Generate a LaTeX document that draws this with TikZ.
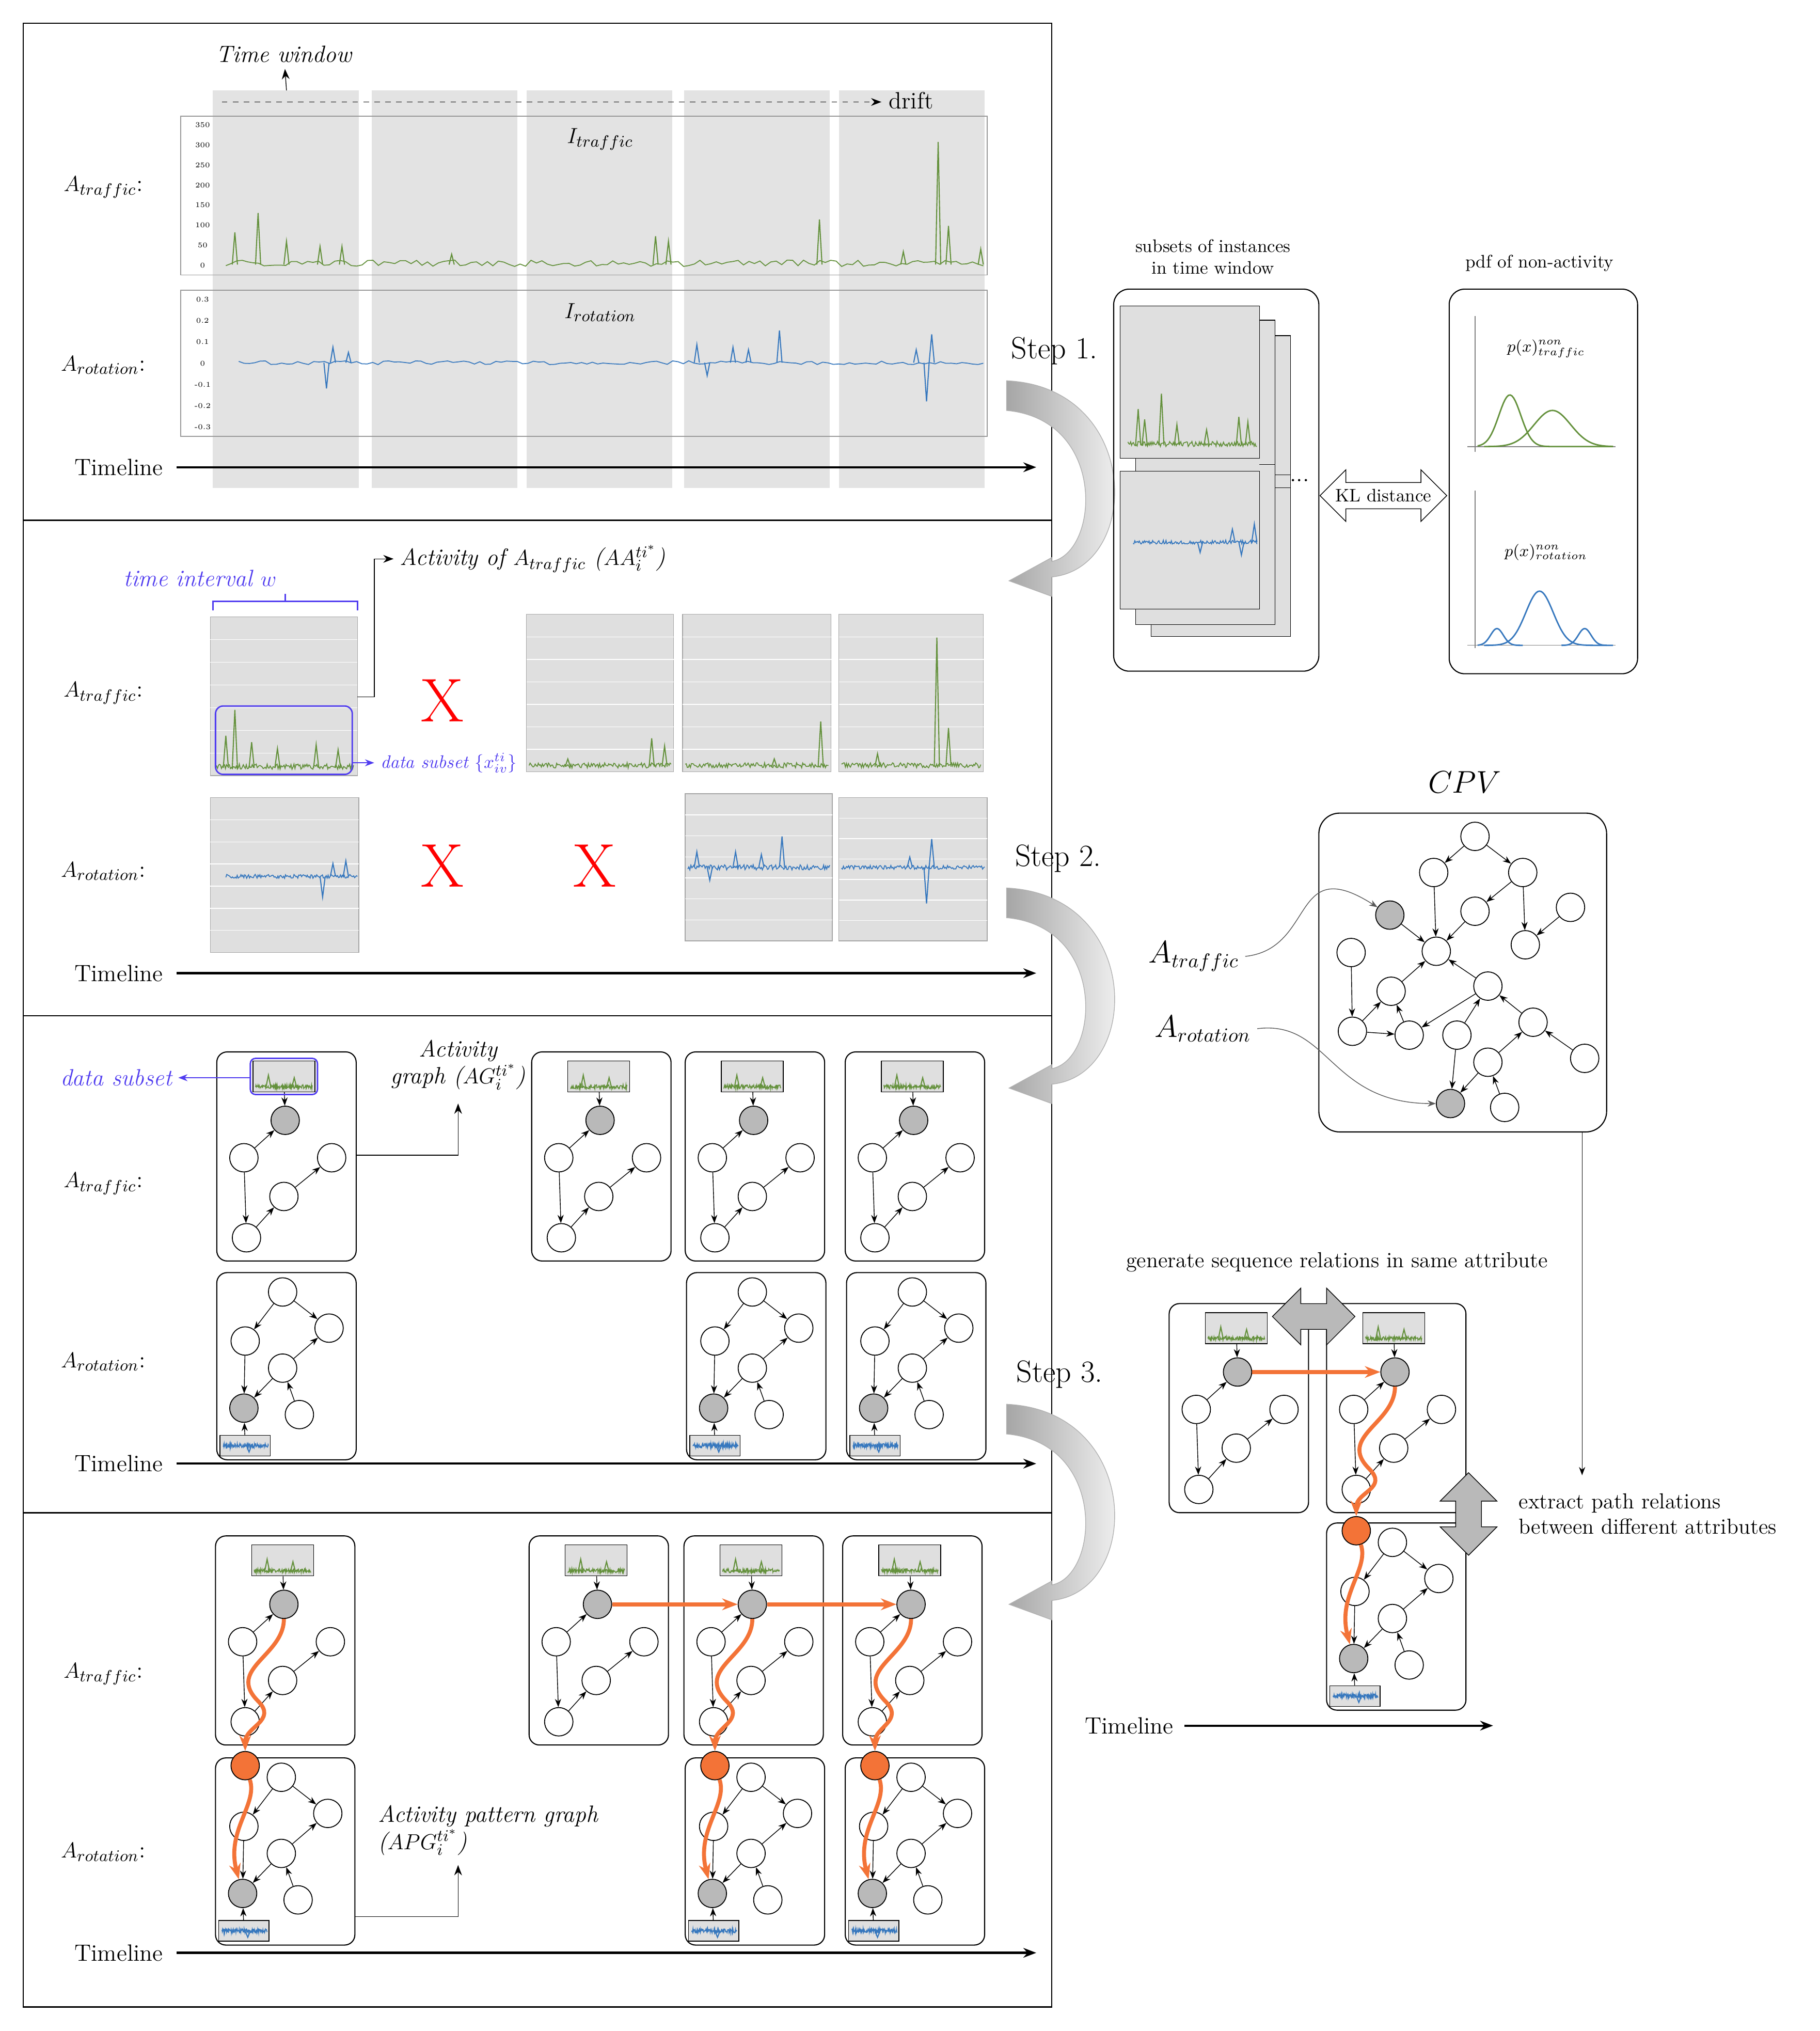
\documentclass[tikz,border=0pt]{standalone}
\usetikzlibrary{arrows.meta,shapes.arrows,calc}
\definecolor{grn}{RGB}{100,145,60}
\definecolor{blu}{RGB}{55,120,190}
\definecolor{orn}{RGB}{243,115,55}
\definecolor{pur}{RGB}{80,60,240}
\begin{document}
\begin{tikzpicture}[x=0.25mm,y=-0.25mm,font=\fontsize{13}{15}\selectfont]
\tikzset{
 gn/.style={circle,draw,fill=white,minimum size=5.5mm,inner sep=0,line width=0.5pt},
 gg/.style={gn,fill=gray!55},
 og/.style={gn,fill=orn},
 ar/.style={-{Stealth[length=1.6mm]},line width=0.4pt},
 oar/.style={orn,line width=2.2pt,-{Stealth[length=3mm]}},
 tl/.style={-{Stealth[length=2.5mm]},line width=1.2pt},
 gbox/.style={fill=gray!25,draw=gray!70,line width=0.4pt},
 thumb/.style={draw,fill=gray!25,inner sep=0},
 col/.style={fill=gray!22,draw=none},
 small/.style={font=\fontsize{10}{12}\selectfont}
}
\pgfmathsetseed{7}
\newcommand\noise[5]{\draw[#5,line width=0.5pt] plot[domain=#1:#2,samples=140] (\x,{#3-#4*(rnd-0.5)});}
\newcommand\spk[4]{\draw[#4,line width=0.6pt] ({#1-2},#2) -- (#1,{#2-(#3)}) -- ({#1+2},#2);}
\newcommand\tgraph[3]{%
 \begin{scope}[shift={(#2,#3)}]
 \draw[rounded corners=2mm,line width=0.6pt] (0,0) rectangle (108,162);
 \node[thumb,minimum width=12mm,minimum height=6mm] (#1t) at (52,19) {};
 \noise{30}{74}{27}{3}{grn}\spk{40}{28}{10}{grn}\spk{60}{28}{8}{grn}
 \node[gg] (#1g) at (53,53) {};
 \node[gn] (#1a) at (21,82) {};
 \node[gn] (#1b) at (89,82) {};
 \node[gn] (#1c) at (52,112) {};
 \node[gn] (#1d) at (23,144) {};
 \end{scope}
 \draw[ar] (#1t) -- (#1g); \draw[ar] (#1a) -- (#1g); \draw[ar] (#1a) -- (#1d);
 \draw[ar] (#1c) -- (#1b); \draw[ar] (#1d) -- (#1c);}
\newcommand\rgraph[3]{%
 \begin{scope}[shift={(#2,#3)}]
 \draw[rounded corners=2mm,line width=0.6pt] (0,0) rectangle (108,145);
 \node[thumb,minimum width=9.75mm,minimum height=4mm] (#1t) at (22,134) {};
 \noise{5}{40}{134}{3}{blu}\spk{25}{134}{-5}{blu}
 \node[gn] (#1u) at (51,15) {};
 \node[gn] (#1r) at (87,43) {};
 \node[gn] (#1l) at (22,53) {};
 \node[gn] (#1m) at (51,74) {};
 \node[gg] (#1g) at (21,105) {};
 \node[gn] (#1w) at (64,110) {};
 \end{scope}
 \draw[ar] (#1u) -- (#1l); \draw[ar] (#1u) -- (#1r); \draw[ar] (#1l) -- (#1g);
 \draw[ar] (#1m) -- (#1g); \draw[ar] (#1w) -- (#1m); \draw[ar] (#1m) -- (#1r);
 \draw[ar] (#1t) -- (#1g);}
\newcommand\orot[3]{%
 \rgraph{#1}{#2}{#3}
 \node[og] (#1o) at ({#2+23},{#3+6}) {};}
\newcommand\steparrow[1]{%
 \begin{scope}[shift={(0,#1)}]
 \shade[left color=gray!70,right color=white,draw=gray!60,line width=0.4pt]
 (780,295) .. controls (885,300) and (885,440) .. (815,447) -- (815,462) -- (782,450) -- (815,432) -- (815,435) .. controls (852,428) and (858,325) .. (780,318) -- cycle;
 \end{scope}}

\useasboundingbox (0,0) rectangle (1410,1573.6);
\fill[white] (0,0) rectangle (1410,1573.6);

\draw[line width=0.8pt] (18,18) rectangle (815,1555);
\draw[line width=0.8pt] (18,403) -- (815,403) (18,787) -- (815,787) (18,1172) -- (815,1172);

% ===== Panel 1
\foreach \a/\b in {165/278,288/401,408/521,530/643,650/763} \fill[col] (\a,70) rectangle (\b,378);
\draw[gray!80,line width=0.5pt] (140,90) rectangle (765,213);
\draw[gray!80,line width=0.5pt] (140,225) rectangle (765,338);
\foreach \v [count=\i from 0] in {350,300,250,200,150,100,50,0} \node[font=\fontsize{4}{5}\selectfont] at (157,{97+\i*15.5}) {\v};
\foreach \v [count=\i from 0] in {0.3,0.2,0.1,0,-0.1,-0.2,-0.3} \node[font=\fontsize{4}{5}\selectfont] at (157,{232+\i*16.5}) {\v};
\noise{175}{762}{204}{5}{grn}
\foreach \x/\h in {182/25,200/40,222/18,248/14,265/14,350/8,508/22,518/18,635/35,700/10,727/95,735/30,760/12} \spk{\x}{205}{\h}{grn};
\noise{185}{762}{281}{3}{blu}
\foreach \x/\h in {253/-20,258/12,270/8,540/14,548/-10,568/12,580/10,604/25,718/-30,722/22,710/10} \spk{\x}{281}{\h}{blu};
\node[font=\itshape\fontsize{13}{15}\selectfont] (tw) at (220,42) {Time window};
\coordinate (twb) at (222,70);
\draw[-{Stealth[length=2mm]}] (twb) -- (tw);
\coordinate (d0) at (172,79); \coordinate (d1) at (683,79);
\draw[dashed,-{Stealth[length=2mm]}] (d0) -- (d1);
\node at (706,78) {drift};
\node at (465,108) {$I_{traffic}$};
\node at (465,242) {$I_{rotation}$};
\node at (80,145) {$A_{traffic}$:};
\node at (80,283) {$A_{rotation}$:};
\node (tl1) at (92,362) {Timeline};
\coordinate (tl1e) at (803,362);
\draw[tl] (137,362) -- (tl1e);

% ===== Panel 2
\foreach \a/\b/\c/\d in {163/478/277/601,408/476/522/598,529/476/644/598,650/476/762/598,163/618/278/738,531/615/645/729,650/618/765/729} {
 \fill[gbox] (\a,\b) rectangle (\c,\d);
 \foreach \k in {1,...,6} \draw[white,line width=0.4pt] (\a,{\b+\k*(\d-\b)/7}) -- (\c,{\b+\k*(\d-\b)/7});
}
\noise{167}{274}{594}{4}{grn}
\foreach \x/\h in {175/25,182/45,195/20,215/15,245/18,262/14} \spk{\x}{595}{\h}{grn};
\noise{410}{520}{593}{4}{grn}
\foreach \x/\h in {505/22,515/16,440/6} \spk{\x}{594}{\h}{grn};
\noise{531}{642}{593}{4}{grn}
\foreach \x/\h in {636/35,600/6} \spk{\x}{594}{\h}{grn};
\noise{652}{760}{593}{4}{grn}
\foreach \x/\h in {726/100,735/30,680/10} \spk{\x}{594}{\h}{grn};
\noise{175}{277}{679}{3}{blu}
\foreach \x/\h in {250/-16,258/10,268/12} \spk{\x}{679}{\h}{blu};
\noise{533}{643}{672}{4}{blu}
\foreach \x/\h in {540/12,550/-10,570/12,590/10,606/24} \spk{\x}{672}{\h}{blu};
\noise{652}{763}{672}{3}{blu}
\foreach \x/\h in {718/-28,722/22,705/8} \spk{\x}{672}{\h}{blu};
\foreach \p in {(343,543),(343,671),(461,671)} \node[red,font=\fontsize{34}{36}\selectfont] at \p {X};
\node[pur,font=\itshape\fontsize{13}{15}\selectfont] at (155,448) {time interval $w$};
\draw[pur,line width=0.8pt] (165,473) -- (165,466) -- (277,466) -- (277,473) (221,466) -- (221,460);
\draw[pur,line width=0.8pt,rounded corners=1.5mm] (167,547) rectangle (273,600);
\node[pur,font=\itshape\fontsize{10}{12}\selectfont,anchor=west] (ds) at (290,591) {data subset $\{x^{ti}_{iv}\}$};
\coordinate (dsa) at (273,591);
\draw[pur,-{Stealth[length=1.8mm]}] (dsa) -- (ds);
\node[anchor=west,font=\itshape\fontsize{13}{15}\selectfont] (act) at (305,433) {Activity of $A_{traffic}$ ($AA^{ti^*}_{i}$)};
\coordinate (ab) at (277,540);
\draw[-{Stealth[length=2mm]}] (ab) -- (290,540) -- (290,433) -- (act);
\node at (80,537) {$A_{traffic}$:};
\node at (80,675) {$A_{rotation}$:};
\node (tl2) at (92,754) {Timeline};
\coordinate (tl2e) at (803,754);
\draw[tl] (137,754) -- (tl2e);

% ===== Panel 3
\tgraph{c1}{168}{815}\tgraph{c2}{412}{815}\tgraph{c3}{531}{815}\tgraph{c4}{655}{815}
\rgraph{e1}{168}{986}\rgraph{e3}{532}{986}\rgraph{e4}{656}{986}
\draw[pur,line width=0.8pt,rounded corners=1mm] (194,820) rectangle (246,848);
\node[pur,font=\itshape\fontsize{13}{15}\selectfont] (dsub) at (90,835) {data subset};
\draw[pur,-{Stealth[length=1.8mm]}] (194,835) -- (dsub);
\node[align=center,font=\itshape\fontsize{13}{15}\selectfont] (ag) at (355,825) {Activity\\graph ($AG^{ti^*}_{i}$)};
\coordinate (agb) at (276,895);
\draw[-{Stealth[length=2mm]}] (agb) -- (355,895) -- (355,855);
\node at (80,917) {$A_{traffic}$:};
\node at (80,1055) {$A_{rotation}$:};
\node (tl3) at (92,1134) {Timeline};
\coordinate (tl3e) at (803,1134);
\draw[tl] (137,1134) -- (tl3e);

% ===== Panel 4
\tgraph{f1}{167}{1190}\tgraph{f2}{410}{1190}\tgraph{f3}{530}{1190}\tgraph{f4}{653}{1190}
\orot{h1}{167}{1362}\orot{h3}{531}{1362}\orot{h4}{655}{1362}
\foreach \a/\b in {f1/h1,f3/h3,f4/h4} {
 \draw[oar] (\a g) .. controls ($(\a g)+(0,40)$) and ($(\a g)+(-45,50)$) .. ($(\a g)+(-20,75)$) .. controls ($(\a g)+(-5,90)$) and ($(\b o)+(0,-30)$) .. (\b o);
 \draw[oar] (\b o) .. controls ($(\b o)+(10,30)$) and ($(\b o)+(-15,50)$) .. (\b g);
}
\draw[oar] (f2g) -- (f3g);
\draw[oar] (f3g) -- (f4g);
\node[anchor=west,align=left,font=\itshape\fontsize{13}{15}\selectfont] (apg) at (288,1418) {Activity pattern graph\\($APG^{ti^*}_{i}$)};
\coordinate (apgb) at (275,1485);
\draw[-{Stealth[length=2mm]}] (apgb) -- (355,1485) -- (355,1445);
\node at (80,1297) {$A_{traffic}$:};
\node at (80,1435) {$A_{rotation}$:};
\node (tl4) at (92,1513) {Timeline};
\coordinate (tl4e) at (803,1513);
\draw[tl] (137,1513) -- (tl4e);

% ===== Step arrows
\steparrow{0}\steparrow{393}\steparrow{793}
\node[font=\fontsize{17}{19}\selectfont] at (817,272) {Step 1.};
\node[font=\fontsize{17}{19}\selectfont] at (820,665) {Step 2.};
\node[font=\fontsize{17}{19}\selectfont] at (821,1065) {Step 3.};

% ===== Right top
\node[small,align=center] at (940,199) {subsets of instances\\in time window};
\draw[rounded corners=3mm,line width=0.6pt] (863,224) rectangle (1022,520);
\draw[fill=gray!25] (892,260) rectangle (1000,493);
\draw[fill=gray!25] (880,248) rectangle (988,484);
\draw[fill=gray!25] (868,237) rectangle (976,355);
\draw[fill=gray!25] (868,365) rectangle (976,472);
\draw (988,368) -- (1000,368) (988,378)--(1000,378) (976,360)--(988,360);
\noise{874}{974}{344}{4}{grn}
\foreach \x/\h in {882/28,887/20,900/40,912/16,935/12,960/22,967/18} \spk{\x}{345}{\h}{grn};
\noise{878}{974}{420}{3}{blu}
\foreach \x/\h in {930/-8,955/10,962/-10,972/14} \spk{\x}{420}{\h}{blu};
\node at (1007,372) {...};
\node[small,double arrow,draw,fill=white,minimum height=22.5mm,minimum width=10mm,double arrow head extend=1.6mm,inner sep=1pt] (kl) at (1072,384) {KL distance};
\node[small] at (1193,204) {pdf of non-activity};
\draw[rounded corners=3mm,line width=0.6pt] (1123,224) rectangle (1269,522);
\draw[gray] (1143,245) -- (1143,350) (1137,346) -- (1252,346);
\draw[grn,line width=0.8pt] plot[domain=1145:1250,samples=80] (\x,{346-40*exp(-((\x-1170)/12)^2)});
\draw[grn,line width=0.8pt] plot[domain=1150:1250,samples=80] (\x,{346-28*exp(-((\x-1203)/20)^2)});
\node[font=\fontsize{9}{10}\selectfont] at (1198,270) {$p(x)^{non}_{traffic}$};
\draw[gray] (1143,380) -- (1143,502) (1137,500) -- (1252,500);
\draw[blu,line width=0.8pt] plot[domain=1150:1250,samples=80] (\x,{500-42*exp(-((\x-1193)/15)^2)});
\draw[blu,line width=0.8pt] plot[domain=1145:1180,samples=40] (\x,{500-13*exp(-((\x-1160)/7)^2)});
\draw[blu,line width=0.8pt] plot[domain=1210:1245,samples=40] (\x,{500-13*exp(-((\x-1228)/7)^2)});
\node[font=\fontsize{9}{10}\selectfont] at (1198,428) {$p(x)^{non}_{rotation}$};

% ===== CPV
\node[font=\fontsize{16}{18}\selectfont] at (1135,606) {$CPV$};
\draw[rounded corners=4mm,line width=0.6pt] (1022,630) rectangle (1245,877);
\foreach \n/\x/\y in {k1/1143/648,k2/1111/676,k3/1180/676,k5/1143/706,k6/1217/703,k7/1047/738,k8/1113/737,k9/1182/732,k10/1078/768,k11/1153/764,k12/1048/799,k13/1092/802,k14/1129/802,k15/1188/792,k16/1228/820,k17/1153/823,k19/1166/858}
 \node[gn] (\n) at (\x,\y) {};
\node[gg] (k4) at (1077,709) {};
\node[gg] (k18) at (1124,855) {};
\foreach \a/\b in {k1/k2,k1/k3,k2/k8,k3/k9,k6/k9,k5/k8,k4/k8,k7/k12,k10/k8,k11/k8,k12/k10,k13/k10,k11/k13,k14/k11,k15/k11,k16/k15,k17/k15,k14/k18,k17/k18,k19/k17,k3/k5,k12/k13}
 \draw[ar] (\a) -- (\b);
\node[font=\fontsize{16}{18}\selectfont] (cat) at (925,741) {$A_{traffic}$};
\node[font=\fontsize{16}{18}\selectfont] (car) at (932,797) {$A_{rotation}$};
\draw[ar,gray!70!black] (cat.east) .. controls (1020,735) and (1000,660) .. (k4);
\draw[ar,gray!70!black] (car.east) .. controls (1030,790) and (1030,855) .. (k18);
\coordinate (cpvb) at (1226,877); \coordinate (cpve) at (1226,1143);
\draw[ar] (cpvb) -- (cpve);

% ===== Right bottom
\node[font=\fontsize{12}{14}\selectfont] at (1036,978) {generate sequence relations in same attribute};
\tgraph{m1}{906}{1010}\tgraph{m2}{1028}{1010}
\orot{m3}{1028}{1180}
\node[double arrow,draw,fill=gray!55,minimum height=16mm,minimum width=11mm,double arrow head extend=1.5mm] (hda) at (1018,1020) {};
\node[double arrow,draw,fill=gray!55,minimum height=16mm,minimum width=11mm,double arrow head extend=1.5mm,rotate=90] (vda) at (1138,1173) {};
\draw[oar] (m1g) -- (m2g);
\draw[oar] (m2g) .. controls ($(m2g)+(0,40)$) and ($(m2g)+(-45,50)$) .. ($(m2g)+(-20,75)$) .. controls ($(m2g)+(-5,90)$) and ($(m3o)+(0,-30)$) .. (m3o);
\draw[oar] (m3o) .. controls ($(m3o)+(10,30)$) and ($(m3o)+(-15,50)$) .. (m3g);
\node[font=\fontsize{12}{14}\selectfont,align=left,anchor=west] at (1172,1173) {extract path relations\\between different attributes};
\node (tl5) at (875,1337) {Timeline};
\coordinate (tl5e) at (1157,1337);
\draw[tl] (918,1337) -- (tl5e);
\end{tikzpicture}
\end{document}
